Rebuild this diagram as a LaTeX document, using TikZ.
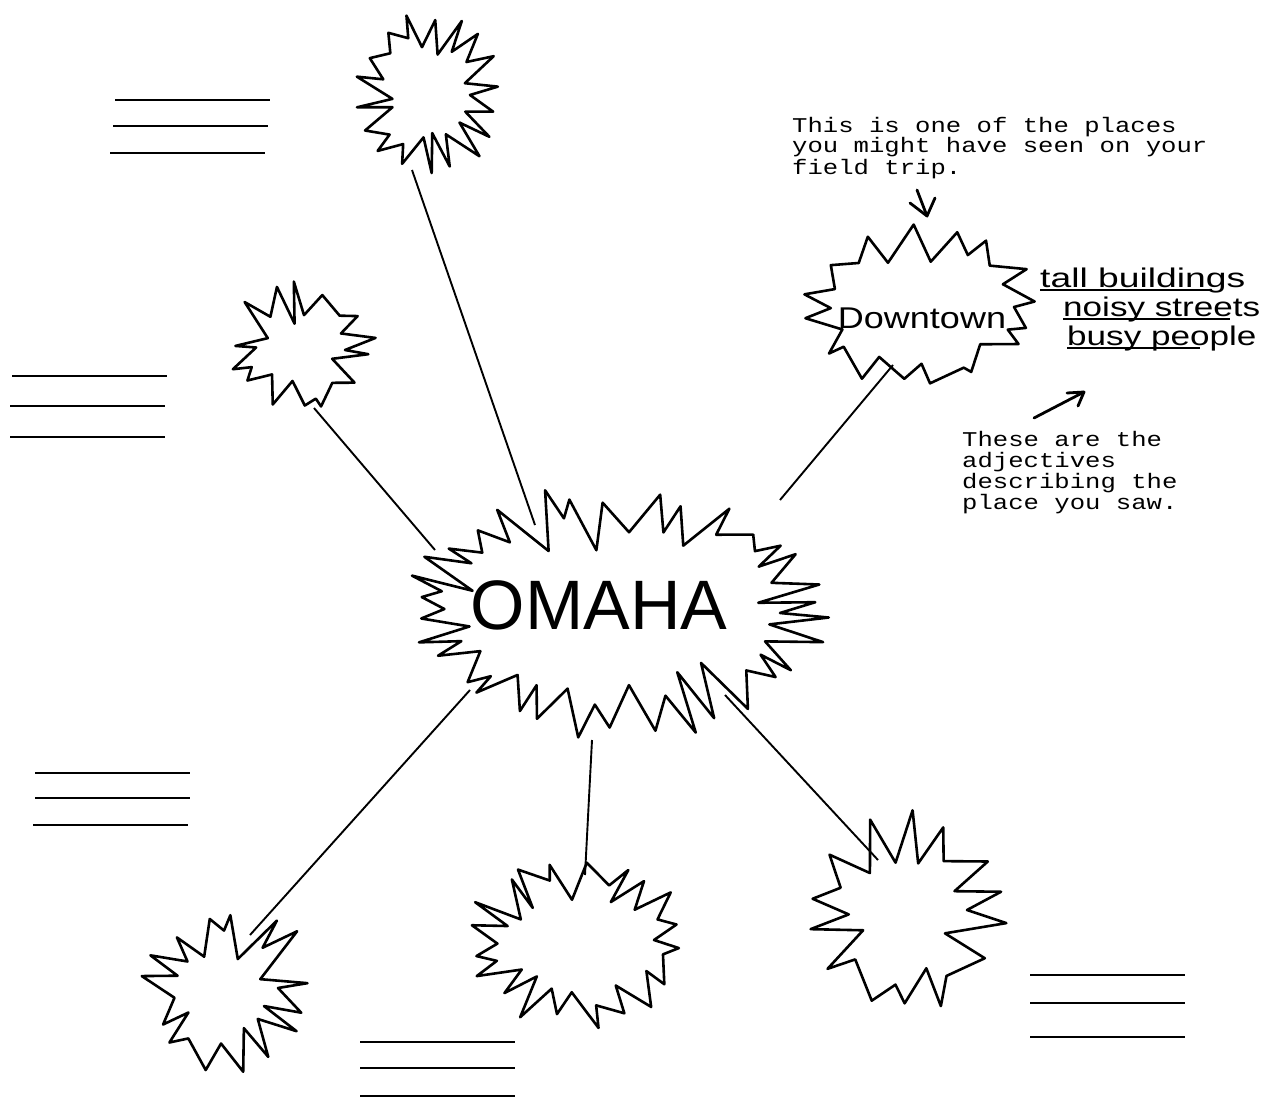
\documentclass[tikz,border=0pt]{standalone}
\usepackage{fontspec}
\setmainfont{Liberation Sans}
\newfontfamily\typew{Liberation Mono}
% #1 cx, #2 cy, #3 rx, #4 ry, #5 points, #6 depth, #7 seed
\newcommand\burstpath[7]{%
  \pgfmathsetseed{#7}%
  \pgfmathtruncatemacro\lastidx{#5-1}%
  \begin{scope}[shift={(#1,#2)}]
  \draw[burstline] (0:{#3-#6} and {#4-#6})
    \foreach \i [evaluate=\i as \va using {360*\i/#5+(\i>0)*0.3*rand*360/#5},
                 evaluate=\i as \vf using {(\i>0)*#6*(0.6+0.8*rnd)+(\i<1)*#6},
                 evaluate=\i as \sa using {360*(\i+0.5)/#5+0.35*rand*360/#5},
                 evaluate=\i as \sf using {#6*0.45*rnd}] in {0,...,\lastidx}
    { -- (\va:{#3-\vf} and {#4-\vf}) -- (\sa:{#3-\sf} and {#4-\sf}) } -- cycle;
  \end{scope}}
\newcommand\tw[1]{\scalebox{1.22}[1]{#1}}
\lineskiplimit=-40pt
\begin{document}
\begin{tikzpicture}[x=1pt,y=-1pt,
  burstline/.style={line width=2.6pt, line join=round},
  hub/.style={inner sep=0pt},
  conn/.style={line width=1.9pt},
  blank/.style={line width=2.4pt},
  note/.style={font=\typew\fontsize{21}{21}\selectfont, align=left, anchor=base west, inner sep=0pt},
  adj/.style={font=\fontsize{27}{27}\selectfont, anchor=base west, inner sep=0pt},
  hand/.style={line width=2.8pt, line cap=round, line join=round}]
\fill[white] (0,0) rectangle (1274,1105);
\useasboundingbox (0,0) rectangle (1274,1105);

% burst outlines
\burstpath{430}{95}{76}{86}{18}{36}{11}
\burstpath{300}{350}{77}{70}{14}{32}{23}
\burstpath{922}{307}{120}{84}{16}{28}{37}
\burstpath{615}{613}{215}{130}{34}{50}{5}
\burstpath{228}{988}{92}{88}{15}{42}{41}
\burstpath{576}{940}{114}{90}{20}{36}{53}
\burstpath{905}{910}{106}{106}{14}{44}{71}

% burst nodes (names and texts)
\node[hub] (top) at (430,95) {};
\node[hub] (ul) at (300,350) {};
\node[hub, font=\fontsize{30}{30}\selectfont] (down) at (922,318) {\scalebox{1.2}[1]{Downtown}};
\node[hub, font=\fontsize{70}{70}\selectfont] (omaha) at (599,605) {OMAHA};
\node[hub] (bl) at (228,988) {};
\node[hub] (bm) at (576,940) {};
\node[hub] (br) at (905,910) {};

% connectors
\draw[conn] ([shift={(-18,75)}]top.center) -- ([shift={(-64,-80)}]omaha.center);
\draw[conn] ([shift={(14,58)}]ul.center) -- ([shift={(-164,-55)}]omaha.center);
\draw[conn] ([shift={(-29,47)}]down.center) -- ([shift={(181,-105)}]omaha.center);
\draw[conn] ([shift={(-129,85)}]omaha.center) -- ([shift={(22,-53)}]bl.center);
\draw[conn] ([shift={(-7,135)}]omaha.center) -- ([shift={(9,-65)}]bm.center);
\draw[conn] ([shift={(126,90)}]omaha.center) -- ([shift={(-27,-50)}]br.center);

% blank lines
\foreach \x/\y in {115/100, 113/126, 110/153,
                   12/376, 10/406, 10/437,
                   35/773, 35/798, 33/825,
                   360/1042, 360/1068, 360/1096,
                   1030/975, 1030/1003, 1030/1037}
  \draw[blank] (\x,\y) -- ++(155,0);

% notes (anchor = baseline of last line)
\node[note] (n1) at (792,174) {\tw{This is one of the places}\\\tw{you might have seen on your}\\\tw{field trip.}};
\node[note] (n2) at (962,509) {\tw{These are the}\\\tw{adjectives}\\\tw{describing the}\\\tw{place you saw.}};

% adjectives
\node[adj] (a1) at (1040,287) {\scalebox{1.38}[1]{tall buildings}};
\node[adj] (a2) at (1063,316) {\scalebox{1.3}[1]{noisy streets}};
\node[adj] (a3) at (1067,345) {\scalebox{1.3}[1]{busy people}};
\draw[line width=2.2pt] (a1.base west) ++(0,3) -- ++(172,0);
\draw[line width=2.2pt] (a2.base west) ++(0,3) -- ++(167,0);
\draw[line width=2.2pt] (a3.base west) ++(0,3) -- ++(133,0);

% annotation arrows
\coordinate (p0) at (917,190);
\coordinate (p1) at (927,216);
\draw[hand] (p0) -- (p1);
\draw[hand] (910,203) -- (p1) -- (935,198);
\coordinate (q0) at (1034,418);
\coordinate (q1) at (1084,392);
\draw[hand] (q0) -- (q1);
\draw[hand] (1067,393) -- (q1) -- (1078,406);
\end{tikzpicture}
\end{document}
